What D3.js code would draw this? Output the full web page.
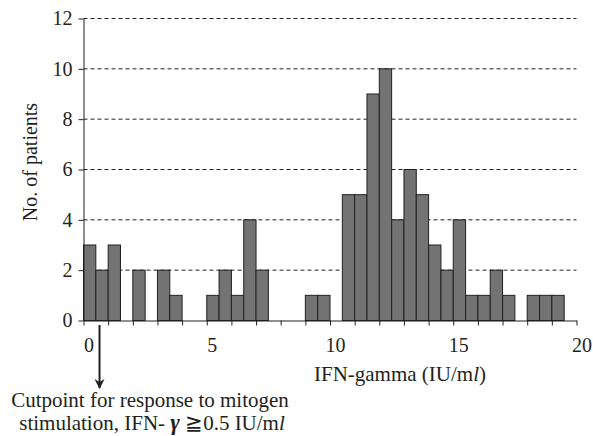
<!DOCTYPE html>
<html>
<head>
<meta charset="utf-8">
<script src="https://cdn.jsdelivr.net/npm/d3@7"></script>
<style>
  body { margin: 0; background: #fff; }
  text { font-family: "Liberation Serif", "Times New Roman", serif; fill: #231f20; }
</style>
</head>
<body>
<div id="chart"></div>
<script>
// bin centres (IU/ml), bins are 0.5 wide
const binCenters = [0, 0.5, 1, 1.5, 2, 2.5, 3, 3.5, 4, 4.5, 5, 5.5, 6, 6.5, 7, 7.5, 8, 8.5, 9, 9.5,
                    10, 10.5, 11, 11.5, 12, 12.5, 13, 13.5, 14, 14.5, 15, 15.5, 16, 16.5, 17, 17.5, 18, 18.5, 19, 19.5];
const patientCounts = [3, 2, 3, 0, 2, 0, 2, 1, 0, 0, 1, 2, 1, 4, 2, 0, 0, 0, 1, 1,
                       0, 5, 5, 9, 10, 4, 6, 5, 3, 2, 4, 1, 1, 2, 1, 0, 1, 1, 1, 0];
const yTicks = [0, 2, 4, 6, 8, 10, 12];
const xTickLabels = [0, 5, 10, 15, 20];
const cutpoint = 0.4;

const width = 593, height = 436;
const binWidth = 0.5;

const svg = d3.select("#chart").append("svg")
    .attr("width", width)
    .attr("height", height);

const x = d3.scaleLinear().domain([-0.25, 19.75]).range([83.5, 576.5]);
const xLabel = d3.scaleLinear().domain([0, 20]).range([89, 582]);
const y = d3.scaleLinear().domain([0, 12]).range([320.5, 18.5]);

// dashed grid
svg.append("g")
    .selectAll("line")
    .data(yTicks.filter(d => d > 0))
    .enter().append("line")
    .attr("x1", x(-0.25))
    .attr("x2", x(19.75))
    .attr("y1", d => y(d))
    .attr("y2", d => y(d))
    .attr("stroke", "#231f20")
    .attr("stroke-width", 1)
    .attr("stroke-dasharray", "4,3");

// bars
svg.append("g")
    .selectAll("rect")
    .data(binCenters.map((c, i) => ({ c, n: patientCounts[i] })).filter(d => d.n > 0))
    .enter().append("rect")
    .attr("x", d => x(d.c - binWidth / 2))
    .attr("width", d => x(d.c + binWidth / 2) - x(d.c - binWidth / 2))
    .attr("y", d => y(d.n))
    .attr("height", d => y(0) - y(d.n))
    .attr("fill", "#737373")
    .attr("stroke", "#231f20")
    .attr("stroke-width", 1);

// y axis
const yAxis = svg.append("g")
    .attr("transform", `translate(${x(-0.25)},0)`)
    .call(d3.axisLeft(y).tickValues(yTicks).tickSize(5).tickPadding(6).tickSizeOuter(0));
yAxis.select(".domain").attr("stroke", "#231f20");
yAxis.selectAll(".tick line").attr("stroke", "#231f20");
yAxis.selectAll(".tick text")
    .attr("font-size", 20)
    .attr("font-family", "Liberation Serif, serif")
    .attr("fill", "#231f20");

// x axis: ticks at bin boundaries every 1 unit
const xTickVals = d3.range(0, 21).map(k => k - 0.25);
const xAxis = svg.append("g")
    .attr("transform", `translate(0,${y(0)})`)
    .call(d3.axisBottom(x).tickValues(xTickVals).tickSize(5).tickFormat("").tickSizeOuter(0));
xAxis.select(".domain").attr("stroke", "#231f20");
xAxis.selectAll(".tick line").attr("stroke", "#231f20");

svg.append("g")
    .selectAll("text")
    .data(xTickLabels)
    .enter().append("text")
    .attr("x", d => xLabel(d))
    .attr("y", 352)
    .attr("text-anchor", "middle")
    .attr("font-size", 20)
    .text(d => d);

// axis titles
svg.append("text")
    .attr("transform", "translate(37,162) rotate(-90)")
    .attr("text-anchor", "middle")
    .attr("font-size", 20)
    .text("No. of patients");

const xt = svg.append("text")
    .attr("x", 400)
    .attr("y", 381)
    .attr("text-anchor", "middle")
    .attr("font-size", 21);
xt.append("tspan").text("IFN-gamma (IU/m");
xt.append("tspan").attr("font-style", "italic").text("l");
xt.append("tspan").text(")");

// cutpoint arrow
svg.append("defs").append("marker")
    .attr("id", "arrow")
    .attr("viewBox", "0 0 10 10")
    .attr("refX", 9).attr("refY", 5)
    .attr("markerWidth", 10).attr("markerHeight", 12)
    .attr("markerUnits", "userSpaceOnUse")
    .attr("orient", "auto")
    .append("path")
    .attr("d", "M0,0 L10,5 L0,10 L3,5 Z")
    .attr("fill", "#231f20");

svg.append("line")
    .attr("x1", x(cutpoint)).attr("x2", x(cutpoint))
    .attr("y1", 325).attr("y2", 388)
    .attr("stroke", "#231f20")
    .attr("stroke-width", 2)
    .attr("marker-end", "url(#arrow)");

svg.append("text")
    .attr("x", 150).attr("y", 407)
    .attr("text-anchor", "middle")
    .attr("font-size", 21)
    .text("Cutpoint for response to mitogen");

const note2 = svg.append("text")
    .attr("x", 152).attr("y", 430)
    .attr("text-anchor", "middle")
    .attr("font-size", 21);
note2.append("tspan").text("stimulation, IFN- ");
note2.append("tspan").attr("font-weight", "bold").attr("font-style", "italic").attr("font-size", 23).text("\u03B3");
note2.append("tspan").text(" \u2267");
note2.append("tspan").text("0.5 IU/m");
note2.append("tspan").attr("font-style", "italic").text("l");
</script>
</body>
</html>
